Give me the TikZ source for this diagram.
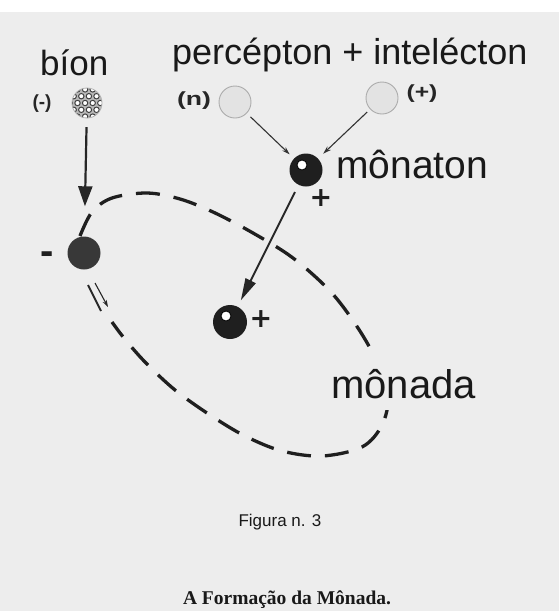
\documentclass[tikz,border=0pt]{standalone}
\usepackage{fontspec}
\setmainfont{Liberation Sans}
\newfontfamily\timesf{Liberation Serif}
\newfontfamily\heavyf{DejaVu Sans}
\usetikzlibrary{arrows.meta}
\definecolor{pagegray}{HTML}{EDEDED}
\tikzset{
  lbl/.style={inner sep=0pt, text=black!90},
  smalllbl/.style={inner sep=0pt, font=\bfseries\fontsize{19}{19}\selectfont, text=black!85},
  lightball/.style={circle, minimum size=32pt, inner sep=0pt, fill=gray!22, draw=gray!65, line width=0.9pt},
  darkball/.style={circle, minimum size=33pt, inner sep=0pt, fill=black!88},
  negball/.style={circle, minimum size=33pt, inner sep=0pt, fill=black!78},
  hilite/.style={circle, minimum size=10pt, inner sep=0pt, fill=white, draw=black, line width=0.8pt},
  thinarrow/.style={line width=1.1pt, draw=black!80, -{Stealth[length=8pt,width=5pt]}},
  bigarrow/.style={line width=2pt, draw=black!85, -{Triangle[length=22pt,width=11pt]}},
  bionarrow/.style={line width=2.2pt, draw=black!85, -{Triangle[length=20pt,width=14pt]}},
  loopline/.style={line width=3.3pt, draw=black!88, dash pattern=on 24pt off 14pt},
  plussign/.style={inner sep=0pt, anchor=base, font=\heavyf\bfseries\fontsize{27}{27}\selectfont, text=black!88}
}
\begin{document}
\begin{tikzpicture}[x=1pt,y=-1pt]
\useasboundingbox (0,0) rectangle (559,611);
\fill[white] (0,0) rectangle (559,611);
\fill[pagegray] (0,12) rectangle (559,611);

% titles
\node[lbl, anchor=base west, font=\fontsize{35}{35}\selectfont] (tbion) at (40,75) {bíon};
\node[lbl, anchor=base west, font=\fontsize{36}{36}\selectfont] (tpi) at (172,64) {percépton + intelécton};

% small particles
\node[circle, minimum size=30pt, inner sep=0pt] (bion) at (87,103) {};
\begin{scope}
  \clip (bion.center) circle (15);
  \fill[gray!55] (bion.center) circle (15);
  \foreach \j in {0,...,4} \foreach \i in {0,...,4}
    \draw[black!75, fill=white, line width=1pt]
      ([shift={({(\i-2)*7.6+(mod(\j,2)-0.5)*3.8},{(\j-2)*6.8})}]bion.center) circle (2.7);
\end{scope}
\draw[gray!60, line width=0.8pt] (bion.center) circle (15);
\node[smalllbl] (lneg) at (42,104) {(-)};

\node[lightball] (perc) at (235,102) {};
\node[lightball] (inte) at (382,98) {};
\node[smalllbl] (ln) at (194,101) {\scalebox{1.4}[1]{(n)}};
\node[smalllbl] (lpos) at (422,94) {\scalebox{1.3}[1]{(+)}};

% monaton
\node[darkball] (mon) at (306,170) {};
\node[hilite] (monhl) at ([shift={(-4,-5)}]mon.center) {};
\node[plussign] (monplus) at (321,206) {+};
\node[lbl, anchor=base west, font=\fontsize{39}{39}\selectfont] (tmon) at (336,178) {mônaton};

\draw[thinarrow, shorten <=5pt, shorten >=6pt] (perc) -- (mon);
\draw[thinarrow, shorten <=4pt, shorten >=7pt] (inte) -- (mon);

% second monaton inside the monad
\node[darkball, minimum size=34pt] (mon2) at (230,322) {};
\node[hilite] (mon2hl) at ([shift={(-4,-6)}]mon2.center) {};
\node[plussign] (mon2plus) at (261,327) {+};
\draw[bigarrow, shorten <=8pt, shorten >=7pt] (mon) -- (mon2);

% negative bion ball
\node[negball] (neg) at (84,253) {};
\node[plussign, font=\bfseries\fontsize{40}{40}\selectfont] (negminus) at (47,264) {-};
\draw[bionarrow, shorten <=9pt, shorten >=30pt] (bion) -- (neg);

% monad loop
\draw[loopline] plot[smooth, tension=0.55] coordinates {
 (80,236) (92,212) (112,198) (147,193) (180,199) (213,212) (253,233)
 (293,258) (330,291) (356,325) (375,358) (388,395) (382,425) (362,447)
 (322,456) (282,451) (245,436) (210,415) (175,390) (145,362) (124,338) (112,322)};

% double lines below the negative ball
\coordinate (dla) at (88,285);
\coordinate (dlb) at (101,311);
\coordinate (dlc) at (95,283);
\coordinate (dld) at (108,307);
\draw[line width=2pt, black!85] (dla) -- (dlb);
\draw[line width=1.1pt, black!85, -{Stealth[length=7pt,width=4.5pt]}] (dlc) -- (dld);

\node[lbl, anchor=base west, font=\fontsize{40}{40}\selectfont, fill=pagegray, inner xsep=3pt, inner ysep=12pt] (tmonada) at (328,398) {mônada};

% captions
\node[lbl, anchor=base, font=\fontsize{17}{17}\selectfont] (fig) at (280,526) {Figura n. 3};
\node[lbl, anchor=base, font=\timesf\bfseries\fontsize{19.5}{19.5}\selectfont] (cap) at (287,604) {A Formação da Mônada.};
\end{tikzpicture}
\end{document}
